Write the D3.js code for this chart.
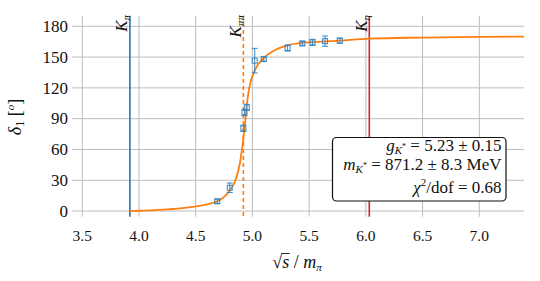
<!DOCTYPE html>
<html><head><meta charset="utf-8">
<script src="https://cdn.jsdelivr.net/npm/d3@7"></script>
<style>
html,body{margin:0;padding:0;background:#fff;}
svg{display:block;}
</style></head>
<body>
<svg id="chart" width="540" height="281" font-family="Liberation Serif"></svg>
<script>
// ---- data ----
const pointX   = [4.69, 4.80, 4.92, 4.93, 4.95, 5.02, 5.10, 5.31, 5.44, 5.53, 5.64, 5.77];
const pointY   = [9.5, 22.7, 80.6, 96, 101, 146.5, 148, 158.8, 163.3, 164.3, 165.5, 166];
const pointErr = [2, 4.6, 3, 3, 3, 12, 2, 3, 2, 3, 5, 2.5];
const fitX = [3.92, 4.0, 4.25, 4.5, 4.69, 4.80, 4.86, 4.89, 4.91, 4.93, 4.95, 4.97, 5.02, 5.10, 5.22, 5.31, 5.42, 5.77, 6.03, 6.5, 7.0, 7.394];
const fitY = [0, 0.3, 1.6, 4.6, 9.5, 20, 33, 47, 62, 80, 103, 119, 137, 149, 158, 161.5, 163.5, 166, 168, 169, 169.6, 170];
const thresholds = [
  {name:"K", sub:"π",  x:3.92, color:"#1f77b4", dash:null},
  {name:"K", sub:"ππ", x:4.92, color:"#ff7f0e", dash:"4,3"},
  {name:"K", sub:"η",  x:6.03, color:"#d62728", dash:null}
];
const xTicks = [3.5, 4.0, 4.5, 5.0, 5.5, 6.0, 6.5, 7.0];
const yTicks = [0, 30, 60, 90, 120, 150, 180];

// ---- layout ----
const FONT = '"Liberation Serif"';
const L = 72.3, R = 524, T = 16, B = 216.7;
const svg = d3.select("#chart");
const x = d3.scaleLinear().domain([3.412, 7.394]).range([L, R]);
const y = d3.scaleLinear().domain([-5.5, 190]).range([B, T]);
const txt = sel => sel.style("font-family", FONT).attr("fill", "#111");

// grid
svg.append("g").selectAll("line").data(xTicks).join("line")
  .attr("x1", d => x(d)).attr("x2", d => x(d)).attr("y1", T).attr("y2", B)
  .attr("stroke", "#bcbcbc").attr("stroke-width", 1);
svg.append("g").selectAll("line").data(yTicks).join("line")
  .attr("x1", L).attr("x2", R).attr("y1", d => y(d)).attr("y2", d => y(d))
  .attr("stroke", "#bcbcbc").attr("stroke-width", 1);

// tick labels
svg.append("g").selectAll("text").data(yTicks).join("text").call(txt)
  .attr("x", 68).attr("y", d => y(d)).attr("dy", "0.34em")
  .attr("text-anchor", "end").attr("font-size", 17).text(d => d);
svg.append("g").selectAll("text").data(xTicks).join("text").call(txt)
  .attr("x", d => x(d)).attr("y", 241)
  .attr("text-anchor", "middle").attr("font-size", 15.5).text(d => d.toFixed(1));

// threshold lines
const th = svg.append("g").selectAll("g").data(thresholds).join("g");
th.append("line")
  .attr("x1", d => x(d.x)).attr("x2", d => x(d.x)).attr("y1", T).attr("y2", B)
  .attr("stroke", d => d.color).attr("stroke-width", 1.6)
  .attr("stroke-dasharray", d => d.dash);
const lab = th.append("text").call(txt)
  .attr("transform", d => `translate(${x(d.x) - 2.5},${T - 1}) rotate(-90)`)
  .attr("text-anchor", "end").attr("font-size", 17);
lab.append("tspan").attr("font-style", "italic").text(d => d.name);
lab.append("tspan").attr("font-style", "italic").attr("font-size", 11).attr("dy", 3).text(d => d.sub);

// fit curve
const fit = fitX.map((v, i) => [v, fitY[i]]);
svg.append("path").datum(fit)
  .attr("fill", "none").attr("stroke", "#ff7f0e").attr("stroke-width", 1.8)
  .attr("d", d3.line().x(d => x(d[0])).y(d => y(d[1])).curve(d3.curveMonotoneX));

// data points
const pts = pointX.map((v, i) => ({x: v, y: pointY[i], e: pointErr[i]}));
const pg = svg.append("g").attr("stroke", "#3a86c0").attr("fill", "none").attr("stroke-width", 1)
  .selectAll("g").data(pts).join("g");
pg.append("line").attr("x1", d => x(d.x)).attr("x2", d => x(d.x))
  .attr("y1", d => y(d.y - d.e)).attr("y2", d => y(d.y + d.e));
pg.append("line").attr("x1", d => x(d.x) - 3).attr("x2", d => x(d.x) + 3)
  .attr("y1", d => y(d.y - d.e)).attr("y2", d => y(d.y - d.e));
pg.append("line").attr("x1", d => x(d.x) - 3).attr("x2", d => x(d.x) + 3)
  .attr("y1", d => y(d.y + d.e)).attr("y2", d => y(d.y + d.e));
pg.append("rect").attr("x", d => x(d.x) - 2.5).attr("y", d => y(d.y) - 2.5)
  .attr("width", 5).attr("height", 5);

// info box
svg.append("rect").attr("x", 332.5).attr("y", 137.5).attr("width", 173.5).attr("height", 63.5)
  .attr("rx", 4).attr("fill", "#fff").attr("stroke", "#111").attr("stroke-width", 1.2);
const bx = 501.5, fs = 17;
const t1 = svg.append("text").call(txt).attr("x", bx).attr("y", 150.5).attr("text-anchor", "end").attr("font-size", fs);
t1.append("tspan").attr("font-style", "italic").text("g");
t1.append("tspan").attr("font-style", "italic").attr("font-size", 11).attr("dy", 3).text("K");
t1.append("tspan").attr("font-size", 8).attr("dy", -5).text("*");
t1.append("tspan").attr("dy", 2).text(" = 5.23 ± 0.15");
const t2 = svg.append("text").call(txt).attr("x", bx).attr("y", 169.5).attr("text-anchor", "end").attr("font-size", fs);
t2.append("tspan").attr("font-style", "italic").text("m");
t2.append("tspan").attr("font-style", "italic").attr("font-size", 11).attr("dy", 3).text("K");
t2.append("tspan").attr("font-size", 8).attr("dy", -5).text("*");
t2.append("tspan").attr("dy", 2).text(" = 871.2 ± 8.3 MeV");
const t3 = svg.append("text").call(txt).attr("x", bx).attr("y", 193).attr("text-anchor", "end").attr("font-size", fs);
t3.append("tspan").attr("font-style", "italic").text("χ");
t3.append("tspan").attr("font-size", 11).attr("dy", -7).text("2");
t3.append("tspan").attr("dy", 7).text("/dof = 0.68");

// y axis label
const yl = svg.append("text").call(txt).attr("transform", "translate(21,117) rotate(-90)")
  .attr("text-anchor", "middle").attr("font-size", 18);
yl.append("tspan").attr("font-style", "italic").text("δ");
yl.append("tspan").attr("font-size", 12).attr("dy", 3).text("1");
yl.append("tspan").attr("dy", -3).text(" [");
yl.append("tspan").attr("font-size", 11).attr("font-style", "italic").attr("dy", -7).text("o");
yl.append("tspan").attr("dy", 7).text("]");

// x axis label
const xl = svg.append("text").call(txt).attr("x", 297).attr("y", 268)
  .attr("text-anchor", "middle").attr("font-size", 18);
xl.append("tspan").text("√");
xl.append("tspan").attr("font-style", "italic").text("s");
xl.append("tspan").text(" / ");
xl.append("tspan").attr("font-style", "italic").text("m");
xl.append("tspan").attr("font-style", "italic").attr("font-size", 11).attr("dy", 3).text("π");
// overline of the root over s
const node = xl.node();
const s0 = node.getStartPositionOfChar(1), s1 = node.getEndPositionOfChar(1);
svg.append("line").attr("x1", s0.x - 1).attr("x2", s1.x + 0.5)
  .attr("y1", 268 - 14.5).attr("y2", 268 - 14.5).attr("stroke", "#111").attr("stroke-width", 0.9);
</script>
</body></html>
